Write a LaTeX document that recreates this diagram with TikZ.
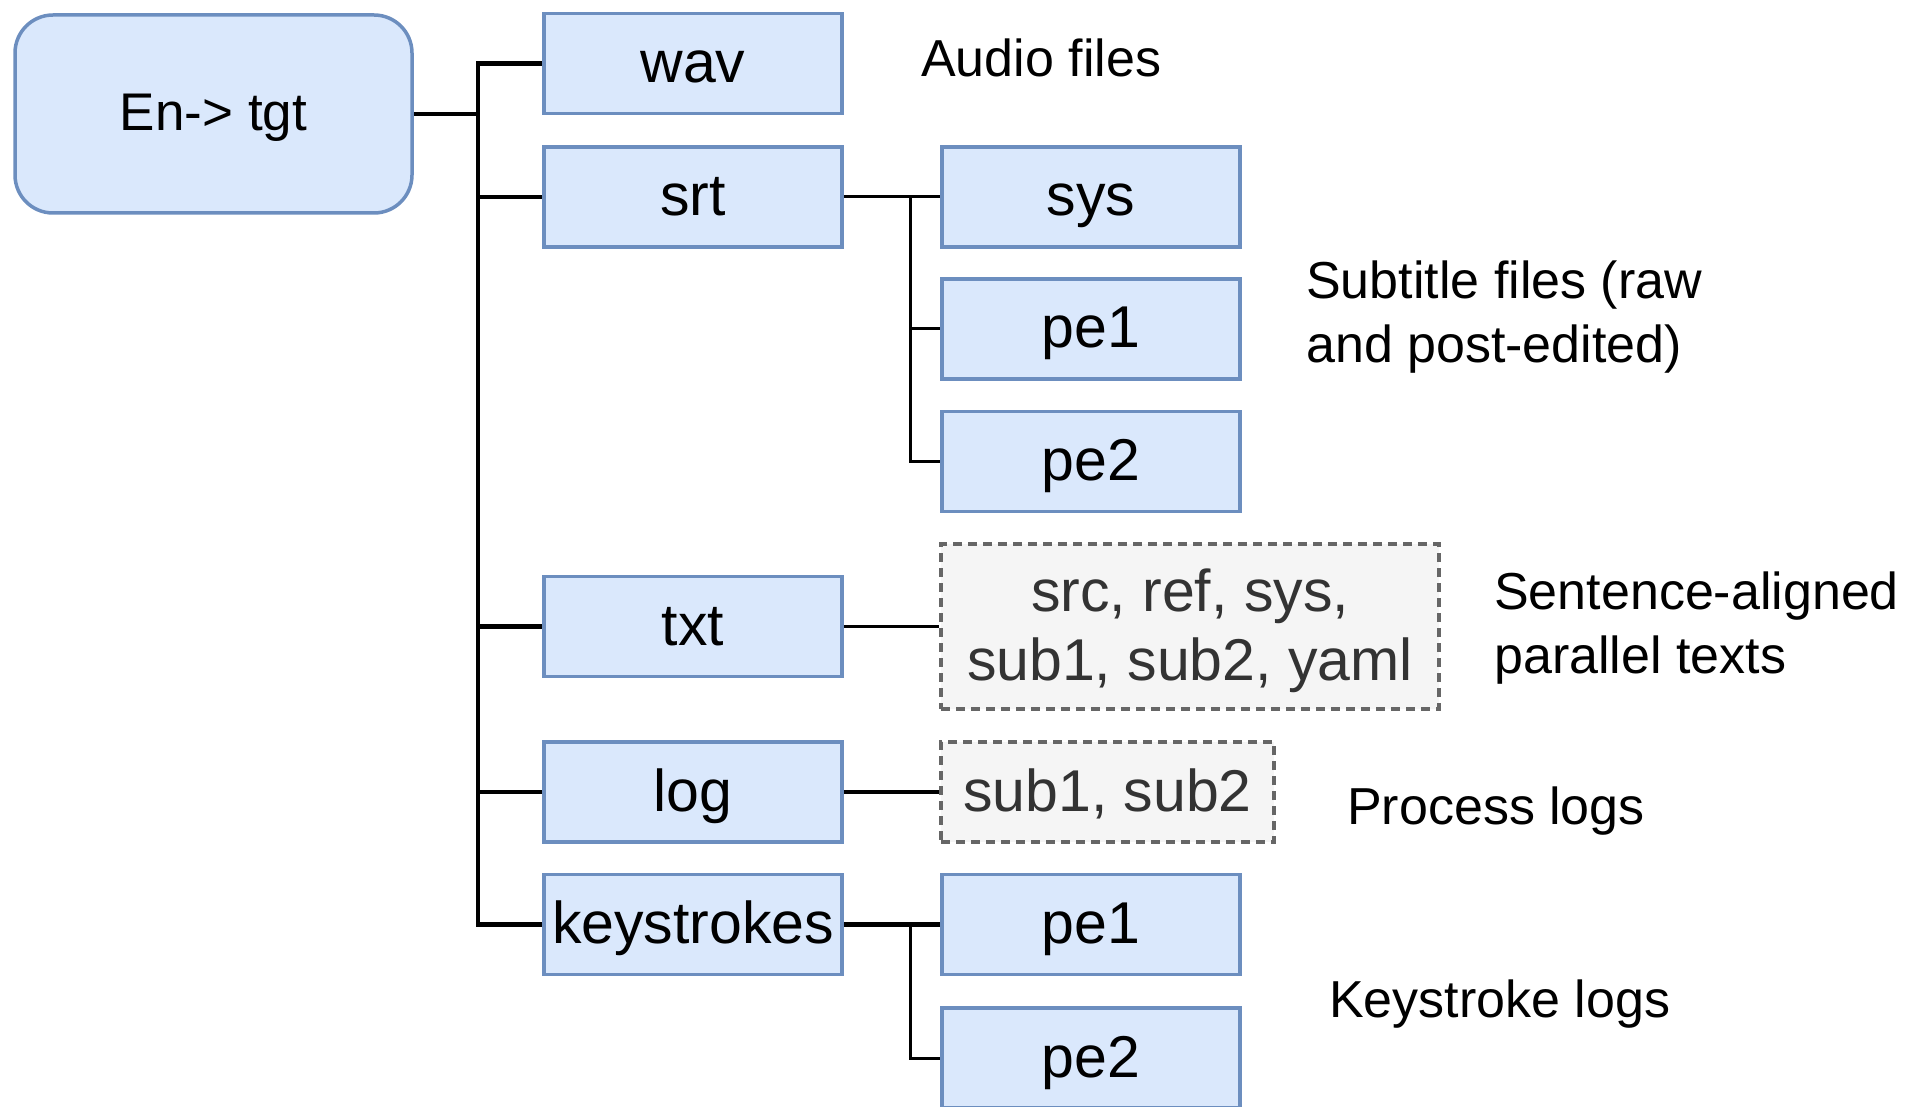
\documentclass[tikz,border=0pt]{standalone}
\usepackage{fontspec}
\setmainfont{Liberation Sans}
\definecolor{bfill}{HTML}{DAE8FC}
\definecolor{bline}{HTML}{6C8EBF}
\definecolor{gfill}{HTML}{F5F5F5}
\definecolor{gline}{HTML}{666666}
\definecolor{gtext}{HTML}{333333}
\tikzset{
  bluebox/.style={draw=bline, fill=bfill, line width=3.5pt, minimum width=298pt, minimum height=100pt, inner sep=0pt, font=\fontsize{59}{69}\selectfont, text=black, text height=50pt, text depth=12pt},
  graybox/.style={draw=gline, fill=gfill, line width=3.5pt, dash pattern=on 9pt off 6pt, inner sep=0pt, align=center, font=\fontsize{59}{69}\selectfont, text=gtext},
  note/.style={anchor=west, inner sep=0pt, align=left, font=\fontsize{52}{64}\selectfont},
  conn/.style={draw=black, line width=4.5pt},
  thinconn/.style={draw=black, line width=3pt}
}
\begin{document}
\begin{tikzpicture}[x=1pt,y=-1pt]
\useasboundingbox (0,0) rectangle (1917,1107);
\clip (0,0) rectangle (1917,1107);
% root
\node[draw=bline, fill=bfill, line width=3.5pt, rounded corners=38pt, minimum width=397pt, minimum height=198pt, inner sep=0pt, font=\fontsize{53}{63}\selectfont, text height=45pt, text depth=11pt] (en) at (213.5,114) {En-> tgt};
% level 1
\node[bluebox] (wav) at (693,63.5) {wav};
\node[bluebox] (srt) at (693,197) {srt};
\node[bluebox] (txt) at (693,626.5) {txt};
\node[bluebox] (log) at (693,792) {log};
\node[bluebox] (ks) at (693,924.5) {keystrokes};
% level 2
\node[bluebox] (sys) at (1091,197) {sys};
\node[bluebox] (pea) at (1091,329) {pe1};
\node[bluebox] (peb) at (1091,461.5) {pe2};
\node[graybox, minimum width=498pt, minimum height=165pt] (txtc) at (1190,626.5) {};
\node[inner sep=0pt, align=center, font=\fontsize{59}{69}\selectfont, text=gtext] (txtcl) at (1190,630.5) {src, ref, sys,\\sub1, sub2, yaml};
\node[graybox, minimum width=333pt, minimum height=100pt, text height=50pt, text depth=12pt] (logc) at (1107.5,792) {sub1, sub2};
\node[bluebox] (kpa) at (1091,924.5) {pe1};
\node[bluebox] (kpb) at (1091,1058) {pe2};
% notes
\node[note] (n1) at (921,58) {Audio files};
\node[note] (n2) at (1306,317) {Subtitle files (raw\\and post-edited)};
\node[note] (n3) at (1494,628.5) {Sentence-aligned\\parallel texts};
\node[note] (n4) at (1347,811) {Process logs};
\node[note] (n5) at (1329,1004) {Keystroke logs};
% connectors
\coordinate (tk) at (478,114);
\coordinate (sk) at (910,197);
\coordinate (kk) at (910,924.5);
\draw[conn] (en.east) -- (tk);
\draw[conn] (tk) |- (wav.west);
\draw[conn] (tk) |- (srt.west);
\draw[conn] (tk) |- (txt.west);
\draw[conn] (tk) |- (log.west);
\draw[conn] (tk) |- (ks.west);
\draw[thinconn] (srt.east) -- (sk);
\draw[thinconn] (sk) -- (sys.west);
\draw[thinconn] (sk) |- (pea.west);
\draw[thinconn] (sk) |- (peb.west);
\draw[thinconn] (txt.east) -- (txtc.west);
\draw[conn] (log.east) -- (logc.west);
\draw[conn] (ks.east) -- (kpa.west);
\draw[thinconn] (kk) |- (kpb.west);
\end{tikzpicture}
\end{document}
